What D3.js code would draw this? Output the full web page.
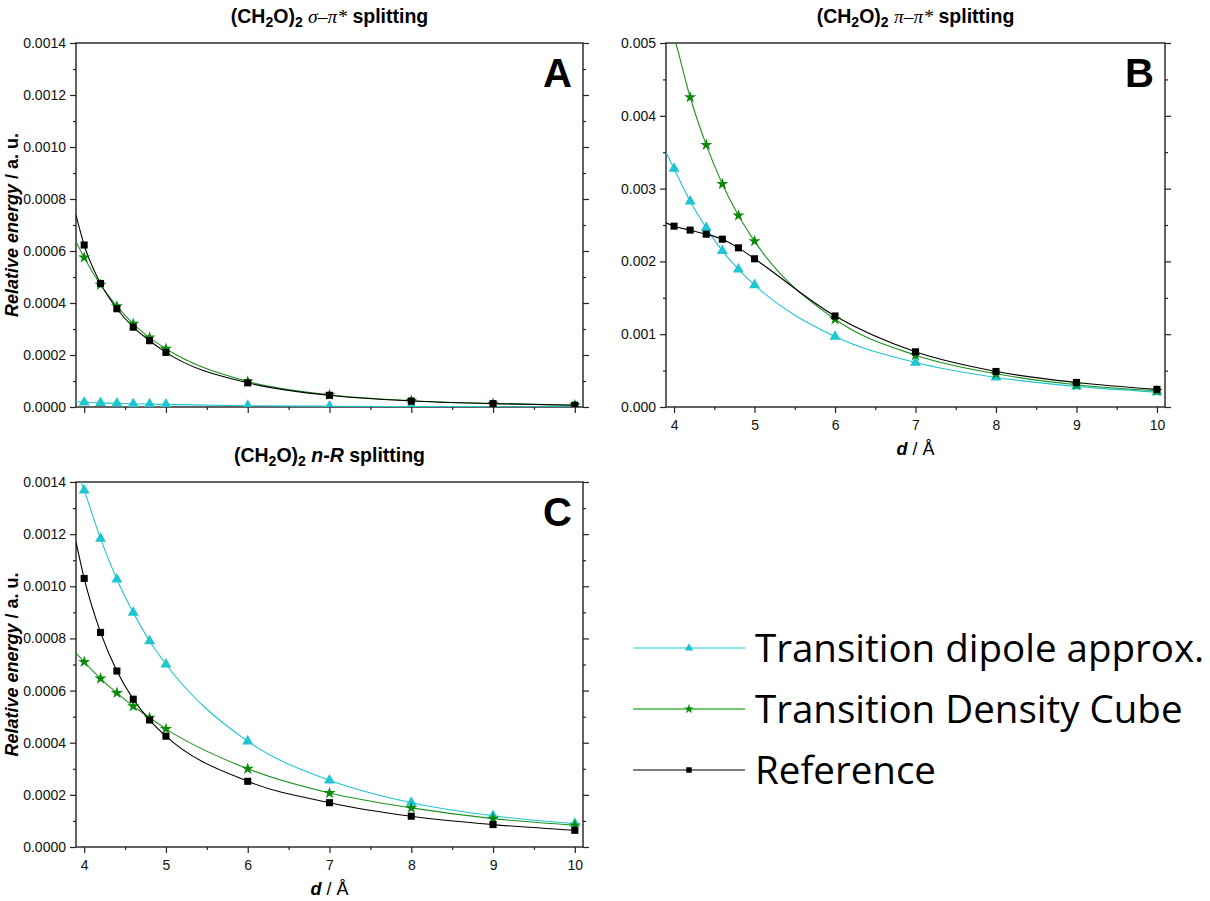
<!DOCTYPE html>
<html>
<head>
<meta charset="utf-8">
<script src="https://cdn.jsdelivr.net/npm/d3@7/dist/d3.min.js"></script>
<style>
  body { margin: 0; background: #fff; }
  svg { display: block; font-family: "Liberation Sans", Arial, sans-serif; }
</style>
</head>
<body>
<svg id="chart"></svg>
<script>
// distances d / Å (same for every panel)
const distances = [4, 4.2, 4.4, 4.6, 4.8, 5, 6, 7, 8, 9, 10];
const seriesNames = ["Transition dipole approx.", "Transition Density Cube", "Reference"];

// panel A : sigma - pi* splitting
const sigmaDipole = [0.000018, 0.000016, 0.000014, 0.000012, 0.000011, 0.000010, 0.000005, 0.000003, 0.000002, 0.0000013, 0.0000009];
const sigmaCube = [0.000575, 0.000470, 0.000388, 0.000320, 0.000267, 0.000224, 0.000098, 0.000047, 0.000024, 0.000013, 0.000007];
const sigmaRef = [0.000623, 0.000475, 0.000378, 0.000307, 0.000255, 0.000210, 0.000093, 0.000045, 0.000023, 0.000013, 0.000007];

// panel B : pi - pi* splitting
const piDipole = [0.003274, 0.002826, 0.00246, 0.002145, 0.00189, 0.001675, 0.000967, 0.000611, 0.000406, 0.000283, 0.000205];
const piCube = [0.00508, 0.004255, 0.0036, 0.003063, 0.00263, 0.002278, 0.001205, 0.000712, 0.000456, 0.000305, 0.000223];
const piRef = [0.002484, 0.00243, 0.002374, 0.002305, 0.002186, 0.002036, 0.00125, 0.000758, 0.000488, 0.000337, 0.000242];

// panel C : n - R splitting
const nrDipole = [0.001368, 0.001183, 0.001027, 0.000899, 0.00079, 0.000701, 0.000405, 0.000256, 0.00017, 0.00012, 0.00009];
const nrCube = [0.00071, 0.000646, 0.000591, 0.00054, 0.000496, 0.000453, 0.0003, 0.000207, 0.00015, 0.000109, 0.000083];
const nrRef = [0.00103, 0.000823, 0.000675, 0.000567, 0.000487, 0.000425, 0.000252, 0.00017, 0.000118, 0.000086, 0.000064];

// where the fitted curves start at the left edge (x = 3.9)
const curveStartX = 3.9;
const sigmaStart = [0.00002, 0.000636, 0.000738];
const piStart = [0.0035, 0.0054, 0.00253];
const nrStart = [0.00145, 0.000744, 0.00117];

const xTicks = [4, 5, 6, 7, 8, 9, 10];
const yTicksSmall = [0, 0.0002, 0.0004, 0.0006, 0.0008, 0.0010, 0.0012, 0.0014];
const yTicksPi = [0, 0.001, 0.002, 0.003, 0.004, 0.005];

const colors = ["#1fc6cf", "#1d931d", "#000000"];
const markColors = ["#1fc6cf", "#0a8a0a", "#000000"];
const symbols = [d3.symbolTriangle, d3.symbolStar, d3.symbolSquare];

const W = 1210, H = 901;
const svg = d3.select("#chart").attr("width", W).attr("height", H);

function drawPanel(p) {
  const x = d3.scaleLinear().domain([3.9, 10.1]).range([p.left, p.right]);
  const y = d3.scaleLinear().domain([0, p.yMax]).range([p.bottom, p.top]);
  const g = svg.append("g");

  const clipId = "clip" + p.letter;
  svg.append("clipPath").attr("id", clipId)
    .append("rect")
      .attr("x", p.left).attr("y", p.top)
      .attr("width", p.right - p.left).attr("height", p.bottom - p.top);

  // axes: labelled ticks outside on left / bottom, mirror ticks inside on the right
  const minorY = d3.range(0, p.yTicks.length - 1).map(i => (p.yTicks[i] + p.yTicks[i + 1]) / 2);
  const minorX = [4.5, 5.5, 6.5, 7.5, 8.5, 9.5];

  g.append("g").attr("transform", `translate(${p.left},0)`)
    .call(d3.axisLeft(y).tickValues(p.yTicks).tickFormat(d3.format(p.fmt)).tickSize(6).tickPadding(4));
  g.append("g").attr("transform", `translate(${p.left},0)`)
    .call(d3.axisLeft(y).tickValues(minorY).tickFormat("").tickSize(3));
  g.append("g").attr("transform", `translate(${p.right},0)`)
    .call(d3.axisLeft(y).tickValues(p.yTicks).tickFormat("").tickSize(-6));
  g.append("g").attr("transform", `translate(${p.right},0)`)
    .call(d3.axisLeft(y).tickValues(minorY).tickFormat("").tickSize(-3));
  g.append("g").attr("transform", `translate(0,${p.bottom})`)
    .call(d3.axisBottom(x).tickValues(xTicks).tickFormat(p.xLabels ? d3.format("d") : "").tickSize(6).tickPadding(7));
  g.append("g").attr("transform", `translate(0,${p.bottom})`)
    .call(d3.axisBottom(x).tickValues(minorX).tickFormat("").tickSize(3));
  g.selectAll(".domain").remove();
  g.selectAll(".tick line").attr("stroke", "#222").attr("stroke-width", 1.2);
  g.selectAll(".tick text").attr("font-size", 14).attr("fill", "#111")
    .attr("font-family", "'Liberation Sans', Arial, sans-serif");

  g.append("rect")
    .attr("x", p.left).attr("y", p.top)
    .attr("width", p.right - p.left).attr("height", p.bottom - p.top)
    .attr("fill", "none").attr("stroke", "#222").attr("stroke-width", 1.4);

  // curves + markers
  const line = d3.line().x(d => x(d[0])).y(d => y(d[1])).curve(d3.curveMonotoneX);
  const plot = g.append("g").attr("clip-path", `url(#${clipId})`);
  p.series.forEach((vals, i) => {
    const pts = [[curveStartX, p.start[i]]].concat(distances.map((d, j) => [d, vals[j]]));
    plot.append("path").datum(pts)
      .attr("d", line)
      .attr("fill", "none").attr("stroke", colors[i]).attr("stroke-width", 1.1);
  });
  p.series.forEach((vals, i) => {
    const size = i === 2 ? 50 : (i === 1 ? 45 : 52);
    plot.selectAll(null).data(distances.map((d, j) => [d, vals[j]]))
      .join("path")
        .attr("transform", d => `translate(${x(d[0])},${y(d[1])})`)
        .attr("d", d3.symbol().type(symbols[i]).size(size))
        .attr("fill", markColors[i]);
  });

  // panel letter
  g.append("text")
    .attr("x", p.right - 11).attr("y", p.top + 44)
    .attr("text-anchor", "end")
    .attr("font-size", 40).attr("font-weight", "bold")
    .text(p.letter);

  // title
  const t = g.append("text")
    .attr("x", (p.left + p.right) / 2).attr("y", p.top - 20)
    .attr("text-anchor", "middle")
    .attr("font-size", 19.5).attr("font-weight", "bold");
  t.append("tspan").text("(CH");
  t.append("tspan").attr("dy", 4).attr("font-size", 14).text("2");
  t.append("tspan").attr("dy", -4).text("O)");
  t.append("tspan").attr("dy", 4).attr("font-size", 14).text("2");
  t.append("tspan").attr("dy", -4).text("\u00a0");
  t.append("tspan")
    .attr("font-family", p.labelSerif ? "'Liberation Serif', 'Times New Roman', serif" : null)
    .attr("font-weight", p.labelSerif ? "normal" : "bold")
    .attr("font-style", "italic").text(p.label);
  t.append("tspan").text(" splitting");

  // y title
  if (p.yTitle) {
    const yt = g.append("text")
      .attr("transform", `translate(${p.left - 58},${(p.top + p.bottom) / 2}) rotate(-90)`)
      .attr("text-anchor", "middle")
      .attr("font-size", 18).attr("font-weight", "bold");
    yt.append("tspan").attr("font-style", "italic").text("Relative energy");
    yt.append("tspan").text(" / a. u.");
  }
  // x title
  if (p.xLabels) {
    const xt = g.append("text")
      .attr("x", (p.left + p.right) / 2).attr("y", p.bottom + 48)
      .attr("text-anchor", "middle").attr("font-size", 18);
    xt.append("tspan").attr("font-weight", "bold").attr("font-style", "italic").text("d");
    xt.append("tspan").text(" / \u00c5");
  }
}

drawPanel({ letter: "A", left: 76, right: 583, top: 43, bottom: 407, yMax: 0.0014, yTicks: yTicksSmall, fmt: ".4f",
  series: [sigmaDipole, sigmaCube, sigmaRef], start: sigmaStart, xLabels: false, yTitle: true,
  label: "\u03c3\u2013\u03c0*", labelSerif: true });
drawPanel({ letter: "B", left: 666, right: 1165, top: 43, bottom: 407, yMax: 0.005, yTicks: yTicksPi, fmt: ".3f",
  series: [piDipole, piCube, piRef], start: piStart, xLabels: true, yTitle: false,
  label: "\u03c0\u2013\u03c0*", labelSerif: true });
drawPanel({ letter: "C", left: 76, right: 583, top: 482, bottom: 847, yMax: 0.0014, yTicks: yTicksSmall, fmt: ".4f",
  series: [nrDipole, nrCube, nrRef], start: nrStart, xLabels: true, yTitle: true,
  label: "n-R", labelSerif: false });

// legend
const legend = svg.append("g");
const legendY = [648, 709, 770];
const legendLine = ["#1fc6cf", "#70cc70", "#000000"];
seriesNames.forEach((name, i) => {
  legend.append("line")
    .attr("x1", 633).attr("x2", 745).attr("y1", legendY[i]).attr("y2", legendY[i])
    .attr("stroke", legendLine[i]).attr("stroke-width", i === 1 ? 2 : 1.2);
  legend.append("path")
    .attr("transform", `translate(689,${legendY[i]})`)
    .attr("d", d3.symbol().type(symbols[i]).size(30))
    .attr("fill", markColors[i]);
  legend.append("text")
    .attr("x", 755).attr("y", legendY[i] + 14)
    .attr("font-family", "'Open Sans', 'Noto Sans', sans-serif")
    .attr("font-size", 38.5).attr("fill", "#000")
    .text(name);
});
</script>
</body>
</html>
